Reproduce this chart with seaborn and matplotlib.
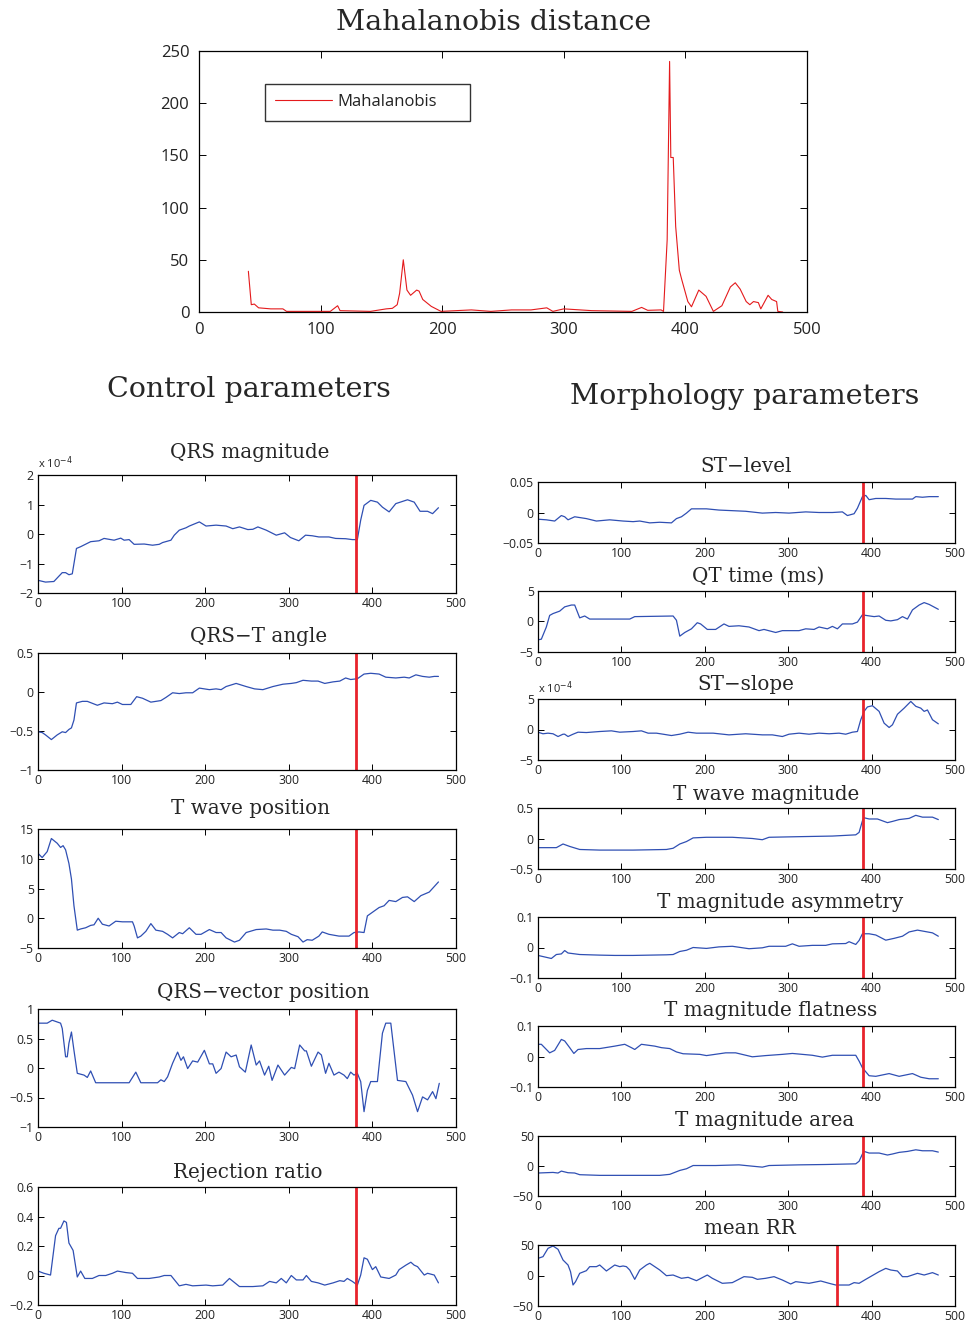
import matplotlib
matplotlib.use("Agg")
import matplotlib.pyplot as plt
import seaborn as sns
import pandas as pd
from matplotlib.ticker import FuncFormatter, FixedLocator

# ---------------- data ----------------
maha = [(40.6,39),(43,7),(45.5,7.6),(49,4),(59,3),(69,3),(72,0.6),(92,0.6),(108,0.6),(114,6),(116,1.3),
        (141,0.6),(154,3),(159,3.5),(163,7),(165,18),(168,50),(171,21),(174,16),(179,21),(181,20),(184,12),
        (191,5.4),(199,0.6),(224,2),(240,0.6),(257,2),(273,2),(286,4),(291,0.6),(300,3),(323,1.3),(356,0.6),
        (364,4.4),(369,1.6),(380,2),(382,0.6),(385,69),(387,240),(388,148),(390,148),(392,82),(395,40),(397,31),
        (402,10),(405,5),(411,21),(417,15),(423,0.6),(430,6),(437,24),(441,28),(445,22),(450,10),(453,7),
        (456,10),(460,9),(462,3),(468,16),(471,12),(475,10),(476,0.6),(480,0)]

qrs_mag_e4 = [(0,-1.57),(9,-1.63),(19,-1.61),(29,-1.31),(33,-1.31),(37,-1.38),(41,-1.35),(46,-0.49),(51,-0.43),
              (63,-0.26),(73,-0.23),(79,-0.15),(91,-0.21),(99,-0.14),(103,-0.21),(109,-0.19),(115,-0.35),
              (127,-0.34),(137,-0.38),(145,-0.35),(149,-0.29),(159,-0.21),(163,-0.04),(169,0.13),(177,0.21),
              (181,0.27),(193,0.41),(201,0.27),(213,0.30),(225,0.27),(233,0.18),(241,0.24),(251,0.15),(257,0.16),
              (263,0.24),(273,0.13),(285,-0.04),(295,0.04),(302,-0.12),(312,-0.23),(320,-0.04),(328,-0.06),
              (336,-0.10),(348,-0.10),(356,-0.15),(368,-0.16),(376,-0.19),(382,-0.19),(386,0.47),(390,0.97),
              (398,1.14),(406,1.08),(412,0.91),(420,0.75),(428,1.03),(442,1.16),(450,1.08),(457,0.77),(466,0.77),
              (472,0.69),(479,0.89)]

qrst_angle = [(0,-0.51),(5,-0.52),(9,-0.55),(16,-0.61),(23,-0.55),(29,-0.51),(33,-0.52),(37,-0.48),(40,-0.46),
              (43,-0.36),(46,-0.14),(53,-0.12),(59,-0.12),(71,-0.17),(79,-0.14),(89,-0.15),(95,-0.13),(101,-0.16),
              (111,-0.16),(118,-0.06),(125,-0.08),(135,-0.13),(147,-0.11),(153,-0.07),(161,-0.01),(169,-0.02),
              (177,-0.01),(185,-0.01),(193,0.05),(205,0.03),(213,0.04),(219,0.03),(225,0.07),(237,0.11),(249,0.07),
              (259,0.04),(269,0.03),(281,0.07),(293,0.10),(303,0.11),(309,0.12),(317,0.15),(327,0.14),(335,0.14),
              (343,0.11),(353,0.13),(361,0.14),(368,0.18),(374,0.16),(382,0.17),(390,0.23),(398,0.24),(408,0.23),
              (416,0.19),(428,0.18),(438,0.19),(444,0.18),(452,0.22),(460,0.20),(468,0.19),(474,0.20),(479,0.20)]

twave_pos = [(0,10.9),(5,10.2),(11,11.2),(16,13.4),(23,12.6),(27,11.9),(30,12.2),(33,11.5),(37,9.2),(40,6.6),
             (43,2.1),(47,-2.0),(51,-1.8),(57,-1.6),(63,-1.2),(67,-1.1),(72,0),(77,-1.0),(85,-1.3),(93,-0.5),
             (101,-0.6),(113,-0.6),(115,-1.3),(119,-3.3),(123,-3.0),(129,-2.2),(135,-0.9),(141,-2.0),(149,-2.2),
             (155,-2.7),(161,-3.3),(169,-2.4),(173,-2.6),(181,-1.6),(189,-2.7),(195,-2.7),(205,-1.9),(213,-2.4),
             (219,-2.4),(225,-3.3),(235,-4.0),(241,-3.7),(249,-2.4),(261,-1.9),(273,-1.8),(281,-2.0),(289,-2.0),
             (297,-2.2),(303,-2.7),(311,-3.1),(317,-4.0),(322,-3.6),(328,-3.7),(336,-3.0),(340,-2.3),(348,-2.7),
             (360,-3.0),(372,-3.0),(378,-2.4),(384,-2.3),(390,-2.4),(394,0.4),(400,1.0),(408,1.8),(414,2.1),
             (420,3.0),(428,2.8),(436,3.5),(442,3.6),(450,2.8),(458,3.8),(468,4.4),(479,6.1)]

qrs_vec_pos = [(0,0.76),(11,0.76),(17,0.81),(27,0.76),(29,0.67),(33,0.19),(35,0.19),(37,0.42),(40,0.61),(43,0.30),
               (47,-0.09),(55,-0.12),(59,-0.16),(63,-0.05),(69,-0.25),(109,-0.25),(117,-0.07),(123,-0.25),
               (143,-0.25),(147,-0.20),(151,-0.23),(155,-0.15),(161,0.08),(167,0.27),(171,0.13),(174,0.19),
               (179,-0.01),(185,0.12),(191,0.10),(199,0.30),(205,0.07),(209,0.07),(213,-0.09),(219,-0.01),
               (225,0.27),(231,0.19),(237,0.22),(241,0.02),(248,-0.07),(255,0.39),(261,0.05),(265,0.12),
               (271,-0.12),(276,0.03),(280,-0.21),(287,0.05),(295,-0.12),(303,0.01),(307,-0.01),(313,0.39),
               (319,0.29),(321,0.29),(327,0.03),(335,0.27),(339,0.22),(344,-0.09),(348,0.08),(354,-0.12),
               (360,-0.07),(366,-0.12),(370,-0.18),(374,-0.07),(378,-0.12),(382,-0.09),(386,-0.23),(390,-0.74),
               (394,-0.38),(398,-0.23),(406,-0.23),(412,0.59),(416,0.76),(422,0.76),(430,-0.21),(440,-0.23),
               (448,-0.46),(454,-0.74),(460,-0.49),(466,-0.54),(472,-0.40),(476,-0.52),(480,-0.26)]

rejection = [(0,0.03),(7,0.015),(15,0.003),(21,0.27),(25,0.32),(27,0.32),(31,0.37),(34,0.36),(37,0.22),(42,0.17),
             (47,-0.01),(51,0.03),(56,-0.02),(65,-0.02),(73,0),(81,0),(89,0.015),(95,0.03),(105,0.02),(113,0.015),
             (119,-0.02),(133,-0.02),(145,-0.01),(151,0),(159,0),(169,-0.07),(177,-0.06),(185,-0.07),(201,-0.065),
             (209,-0.07),(221,-0.065),(229,-0.02),(241,-0.075),(257,-0.075),(269,-0.07),(277,-0.04),(285,-0.05),
             (291,-0.02),(297,-0.05),(303,0),(309,-0.03),(317,-0.03),(321,0),(327,-0.04),(335,-0.05),(343,-0.065),
             (353,-0.05),(361,-0.035),(366,-0.04),(370,-0.02),(376,-0.04),(382,-0.065),(386,0.003),(390,0.12),
             (394,0.11),(400,0.04),(404,0.06),(410,-0.01),(420,-0.02),(428,0.003),(432,0.04),(440,0.07),(446,0.09),
             (450,0.07),(454,0.06),(462,0.003),(466,0.015),(474,0.003),(479,-0.05)]

st_level = [(0,-0.011),(10,-0.012),(20,-0.014),(28,-0.005),(32,-0.007),(36,-0.012),(44,-0.007),(58,-0.010),
            (70,-0.014),(86,-0.012),(102,-0.014),(114,-0.015),(122,-0.014),(134,-0.017),(146,-0.016),(160,-0.017),
            (166,-0.010),(172,-0.007),(178,-0.001),(184,0.006),(202,0.006),(217,0.004),(233,0.003),(249,0.002),
            (269,-0.001),(285,0),(301,-0.001),(321,0.001),(337,0),(353,0),(365,0.001),(371,-0.005),(379,-0.002),
            (383,0.007),(389,0.026),(393,0.028),(397,0.021),(405,0.023),(417,0.023),(429,0.022),(441,0.022),
            (449,0.022),(453,0.026),(461,0.025),(469,0.026),(480,0.026)]

qt_time = [(0,-3.0),(4,-2.9),(10,-0.9),(14,1.0),(18,1.3),(26,1.7),(32,2.4),(40,2.7),(44,2.7),(50,0.6),(56,0.9),
           (62,0.4),(74,0.4),(110,0.4),(116,0.8),(162,0.9),(166,0.2),(170,-2.4),(176,-1.8),(184,-1.2),(191,-0.2),
           (195,-0.4),(203,-1.3),(213,-1.3),(223,-0.4),(229,-0.8),(241,-0.7),(253,-0.9),(265,-1.5),(271,-1.3),
           (285,-1.8),(293,-1.5),(313,-1.5),(321,-1.2),(331,-1.3),(337,-0.9),(347,-1.2),(353,-0.8),(359,-1.2),
           (365,-0.4),(377,-0.4),(383,-0.1),(389,1.1),(393,1.0),(403,0.8),(409,0.9),(417,0.2),(423,0.1),(431,0.3),
           (437,0.8),(443,0.4),(449,1.9),(457,2.7),(463,3.1),(469,2.8),(480,2.0)]

st_slope_e4 = [(0,-0.44),(6,-0.7),(12,-0.6),(18,-0.7),(24,-1.15),(30,-0.77),(32,-0.77),(36,-1.15),(42,-0.77),
               (48,-0.44),(58,-0.5),(74,-0.33),(88,-0.22),(98,-0.44),(114,-0.33),(124,-0.22),(132,-0.6),(142,-0.6),
               (150,-0.77),(160,-0.99),(170,-0.77),(180,-0.44),(190,-0.6),(210,-0.6),(229,-0.88),(249,-0.7),
               (269,-0.88),(281,-0.88),(293,-1.15),(301,-0.77),(313,-0.6),(325,-0.77),(337,-0.6),(349,-0.7),
               (361,-0.6),(369,-0.77),(377,-0.44),(383,-0.33),(387,1.6),(391,2.97),(395,3.7),(401,3.9),(409,2.97),
               (415,1.04),(421,0.33),(425,0.77),(431,2.5),(439,3.5),(447,4.6),(453,3.8),(459,3.5),(463,2.97),
               (467,3.2),(473,1.6),(480,0.93)]

twave_mag = [(0,-0.15),(14,-0.15),(22,-0.15),(30,-0.09),(38,-0.13),(50,-0.18),(74,-0.19),(114,-0.19),(154,-0.18),
             (162,-0.16),(170,-0.09),(178,-0.05),(186,0.01),(202,0.02),(233,0.02),(257,0),(269,-0.02),(277,0.02),
             (313,0.03),(353,0.04),(381,0.06),(385,0.10),(389,0.29),(391,0.34),(397,0.32),(407,0.32),(419,0.26),
             (425,0.28),(433,0.31),(445,0.33),(453,0.38),(461,0.35),(473,0.35),(480,0.31)]

t_asym = [(0,-0.026),(8,-0.031),(16,-0.036),(22,-0.023),(28,-0.021),(32,-0.010),(36,-0.018),(50,-0.023),
          (74,-0.025),(92,-0.026),(114,-0.026),(154,-0.024),(162,-0.023),(170,-0.013),(178,-0.009),(186,0),
          (202,-0.003),(217,0.002),(233,0.004),(253,-0.004),(269,-0.001),(277,0.004),(297,0.004),(305,0.012),
          (313,0.004),(329,0.007),(345,0.007),(353,0.012),(369,0.013),(373,0.019),(381,0.010),(385,0.023),
          (389,0.045),(397,0.045),(405,0.041),(417,0.024),(427,0.030),(437,0.037),(445,0.051),(455,0.057),
          (465,0.052),(473,0.048),(480,0.037)]

t_flat = [(0,0.040),(4,0.040),(14,0.012),(20,0.020),(28,0.056),(32,0.051),(38,0.029),(43,0.010),(48,0.023),
          (58,0.026),(74,0.026),(92,0.034),(104,0.040),(112,0.029),(116,0.023),(124,0.040),(140,0.034),(148,0.029),
          (158,0.026),(166,0.015),(174,0.009),(194,0.007),(202,0.003),(225,0.012),(237,0.012),(257,-0.001),
          (273,0.003),(293,0.007),(305,0.010),(329,0.004),(341,-0.002),(353,0.004),(369,0.004),(381,0.004),
          (385,-0.015),(389,-0.037),(397,-0.063),(405,-0.065),(421,-0.056),(433,-0.065),(449,-0.056),(459,-0.068),
          (469,-0.073),(480,-0.073)]

t_area = [(0,-11.7),(18,-10.7),(24,-11.7),(28,-8.5),(36,-11.2),(44,-11.7),(50,-14.5),(74,-15.6),(114,-15.6),
          (146,-15.6),(158,-13.9),(170,-7.4),(178,-4.6),(186,0.8),(213,0.8),(241,1.9),(257,-0.3),(269,-1.9),
          (277,0.8),(313,1.9),(345,2.5),(381,3.6),(385,7.9),(389,20),(391,24.3),(397,21.6),(409,21.6),(419,18.3),
          (425,20),(433,22.7),(443,24.3),(453,27),(461,25.4),(473,25.4),(480,23.2)]

mean_rr = [(0,28.1),(6,30.9),(12,44.5),(18,48.4),(24,42.9),(30,25.4),(36,17.2),(39,6.3),(42,-15.6),(45,-10.1),
           (50,3.6),(58,7.9),(62,14.5),(70,14.5),(74,17.2),(82,7.4),(92,17.2),(98,14.5),(102,15.6),(106,14.5),
           (110,9.0),(116,-6.3),(122,9.0),(130,17.2),(134,20),(146,9.0),(154,-0.3),(162,0.8),(172,-4.6),(180,-3.0),
           (190,-8.5),(203,0.8),(209,-4.6),(221,-12.8),(233,-11.7),(247,-1.9),(257,-3.0),(263,-6.3),(273,-4.6),
           (283,-1.9),(293,-7.4),(303,-13.9),(309,-10.1),(325,-12.8),(339,-9.0),(349,-12.8),(357,-15.6),
           (373,-15.6),(379,-11.7),(385,-12.8),(393,-6.3),(409,6.3),(417,11.7),(423,9.0),(431,7.4),(437,-1.9),
           (443,-1.9),(455,3.6),(463,0.8),(473,4.7),(480,0.8)]

left_titles = ["QRS magnitude", "QRS\u2212T angle", "T wave position", "QRS\u2212vector position", "Rejection ratio"]
right_titles = ["ST\u2212level", "QT time (ms)", "ST\u2212slope", "T wave magnitude", "T magnitude asymmetry",
                "T magnitude flatness", "T magnitude area", "mean RR"]
left_series = [qrs_mag_e4, qrst_angle, twave_pos, qrs_vec_pos, rejection]
right_series = [st_level, qt_time, st_slope_e4, twave_mag, t_asym, t_flat, t_area, mean_rr]
left_yticks = [[-2, -1, 0, 1, 2], [-1, -0.5, 0, 0.5], [-5, 0, 5, 10, 15], [-1, -0.5, 0, 0.5, 1],
               [-0.2, 0, 0.2, 0.4, 0.6]]
right_yticks = [[-0.05, 0, 0.05], [-5, 0, 5], [-5, 0, 5], [-0.5, 0, 0.5], [-0.1, 0, 0.1], [-0.1, 0, 0.1],
                [-50, 0, 50], [-50, 0, 50]]
left_event = [380, 380, 380, 380, 380]
right_event = [390, 390, 390, 390, 390, 390, 390, 359]
xticks = [0, 100, 200, 300, 400, 500]
maha_yticks = [0, 50, 100, 150, 200, 250]
EXP_LABEL = "x 10$^{-4}$"

# ---------------- style ----------------
sns.set_theme(style="ticks")
plt.rcParams["font.family"] = ["Open Sans", "DejaVu Sans"]
plt.rcParams["axes.linewidth"] = 0.9
plt.rcParams["axes.edgecolor"] = "black"

W, H = 969, 1327
fig = plt.figure(figsize=(W / 100, H / 100), dpi=100)
fig.patch.set_facecolor("white")

BLUE = "#2f4fb3"
RED = "#e8232b"
SERIF = ["DejaVu Serif"]
TICKCOL = "#222222"


def rect(l, t, r, b):
    return [l / W, 1 - b / H, (r - l) / W, (b - t) / H]


def fmt(v, pos):
    return ("%g" % v).replace("-", "\u2212")


def style_axes(ax, yticks, lsize):
    ax.set_xlim(0, 500)
    ax.set_ylim(yticks[0], yticks[-1])
    ax.xaxis.set_major_locator(FixedLocator(xticks))
    ax.yaxis.set_major_locator(FixedLocator(yticks))
    ax.xaxis.set_major_formatter(FuncFormatter(fmt))
    ax.yaxis.set_major_formatter(FuncFormatter(fmt))
    ax.tick_params(direction="in", length=4, width=0.7, top=True, right=True, labelsize=lsize,
                   colors="black", labelcolor=TICKCOL, pad=3)
    ax.set_xlabel("")
    ax.set_ylabel("")
    for s in ax.spines.values():
        s.set_visible(True)
        s.set_color("black")
    ax.set_facecolor("white")


def plot_series(ax, pairs, color, lw, label=None):
    df = pd.DataFrame(pairs, columns=["x", "y"])
    sns.lineplot(data=df, x="x", y="y", ax=ax, color=color, linewidth=lw, label=label,
                 estimator=None, sort=False)


# ---------------- top panel ----------------
ax0 = fig.add_axes(rect(199, 51, 807, 312))
plot_series(ax0, maha, "#e41a1c", 0.8, label="Mahalanobis")
style_axes(ax0, maha_yticks, 12)
ax0.tick_params(pad=7, length=5)
leg = ax0.legend(loc="upper left", bbox_to_anchor=(0.1086, 0.874, 0.337, 0.0), mode="expand",
                 frameon=True, fancybox=False, edgecolor="black", fontsize=12, handlelength=3.4,
                 borderpad=0.62, handletextpad=0.35, borderaxespad=0)
leg.get_frame().set_linewidth(1.0)
for txt in leg.get_texts():
    txt.set_color(TICKCOL)
fig.text(494 / W, 1 - 22 / H, "Mahalanobis distance", family=SERIF, fontsize=20.5,
         ha="center", va="center")
fig.text(249 / W, 1 - 390 / H, "Control parameters", family=SERIF, fontsize=20.5, ha="center", va="center")
fig.text(745 / W, 1 - 397 / H, "Morphology parameters", family=SERIF, fontsize=20.5, ha="center", va="center")

# ---------------- left column ----------------
left_boxes = [(475, 593), (653, 770), (829, 948), (1009, 1127), (1187, 1305)]
left_title_pos = [(250, 452), (259, 637), (250, 809), (263, 993), (248, 1172)]
for i in range(5):
    t, b = left_boxes[i]
    ax = fig.add_axes(rect(38, t, 456, b))
    plot_series(ax, left_series[i], BLUE, 0.9)
    ax.axvline(left_event[i], color=RED, linewidth=2)
    style_axes(ax, left_yticks[i], 8.8)
    tx, ty = left_title_pos[i]
    fig.text(tx / W, 1 - ty / H, left_titles[i], family=SERIF, fontsize=14.3, ha="center", va="center")
    if i == 0:
        ax.text(0, 1.03, EXP_LABEL, transform=ax.transAxes, fontsize=8, color=TICKCOL,
                ha="left", va="bottom")

# ---------------- right column ----------------
right_boxes = [(482, 543), (591, 652), (699, 760), (808, 869), (917, 978), (1026, 1087), (1136, 1196), (1245, 1306)]
right_title_pos = [(746, 466), (758, 576), (746, 685), (766, 795), (780, 902), (771, 1011), (765, 1120), (750, 1229)]
for i in range(8):
    t, b = right_boxes[i]
    ax = fig.add_axes(rect(538, t, 955, b))
    plot_series(ax, right_series[i], BLUE, 0.9)
    ax.axvline(right_event[i], color=RED, linewidth=2)
    style_axes(ax, right_yticks[i], 8.8)
    tx, ty = right_title_pos[i]
    fig.text(tx / W, 1 - ty / H, right_titles[i], family=SERIF, fontsize=14.3, ha="center", va="center")
    if i == 2:
        ax.text(0, 1.05, EXP_LABEL, transform=ax.transAxes, fontsize=8, color=TICKCOL,
                ha="left", va="bottom")

fig.savefig("out.png", dpi=100, facecolor="white")
